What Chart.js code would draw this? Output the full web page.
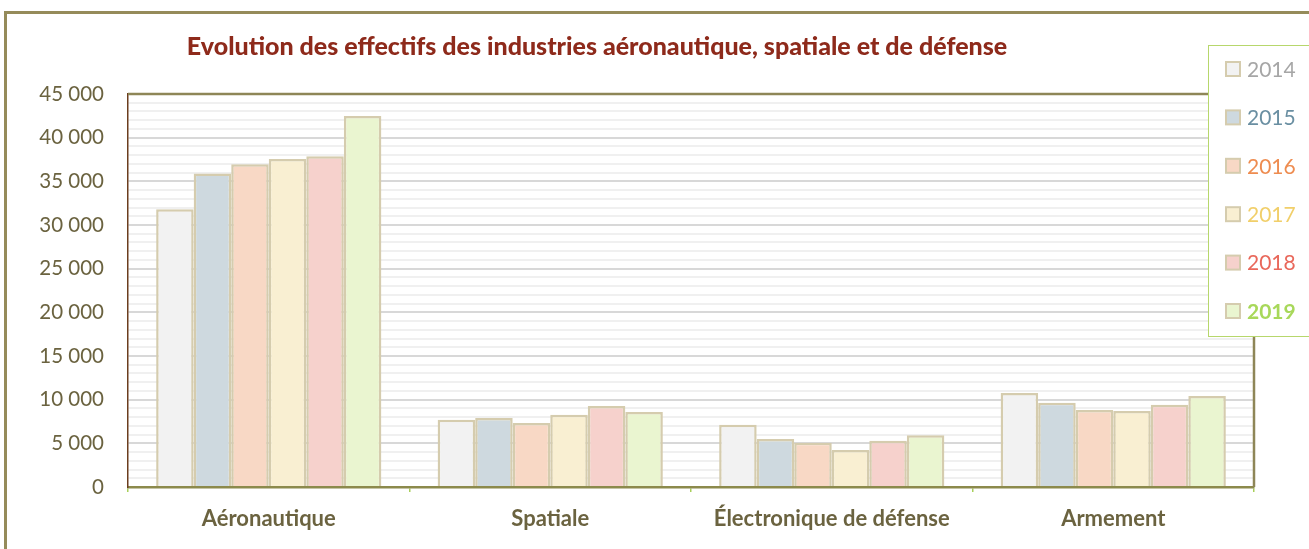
<!DOCTYPE html>
<html>
<head>
<meta charset="utf-8">
<script src="https://cdn.jsdelivr.net/npm/chart.js@4"></script>
<style>
  html, body { margin: 0; padding: 0; background: #fff; }
  #wrap { position: relative; width: 1309px; height: 549px; }
  #frame {
    position: absolute; left: 4px; top: 11px; right: -10px; bottom: -10px;
    border-left: 3px solid #958B5A; border-top: 3px solid #958B5A;
  }
</style>
</head>
<body>
<div id="wrap">
  <div id="frame"></div>
  <canvas id="chart"></canvas>
</div>
<script>
// categories and series values
var categories = ["Aéronautique", "Spatiale", "Électronique de défense", "Armement"];
var years = ["2014", "2015", "2016", "2017", "2018", "2019"];
var v2014 = [31800, 7700, 7130, 10760];
var v2015 = [35900, 7900, 5500, 9650];
var v2016 = [36950, 7330, 5070, 8820];
var v2017 = [37550, 8280, 4240, 8700];
var v2018 = [37860, 9270, 5300, 9420];
var v2019 = [42480, 8590, 5920, 10420];
var barColors = ["#F2F2F2", "#CED9DF", "#F8D8C5", "#F9EFD2", "#F6D1CC", "#EAF5D0"];
var legendTextColors = ["#A6A6A6", "#6A8FA2", "#EE8C50", "#F1CF6A", "#E9685B", "#A8D85A"];

var titleText = "Evolution des effectifs des industries aéronautique, spatiale et de défense";
var fontFamily = "Lato, 'Open Sans', sans-serif";

function fmt(v) {
  return String(v).replace(/\B(?=(\d{3})+(?!\d))/g, " ");
}

var seriesValues = [v2014, v2015, v2016, v2017, v2018, v2019];
var datasets = years.map(function (y, i) {
  return {
    label: y,
    data: seriesValues[i],
    backgroundColor: barColors[i],
    borderColor: "#D5CCAE",
    borderWidth: 2.5,
    categoryPercentage: 0.8,
    barPercentage: 1.0
  };
});

// title, plot frame and legend box drawn on top
var decorPlugin = {
  id: "decor",
  afterDraw: function (chart) {
    var ctx = chart.ctx;
    var a = chart.chartArea;
    ctx.save();

    // plot area frame: top and right in olive
    ctx.strokeStyle = "#8E8657";
    ctx.lineWidth = 2.5;
    ctx.beginPath();
    ctx.moveTo(a.left, a.top);
    ctx.lineTo(a.right, a.top);
    ctx.lineTo(a.right, a.bottom);
    ctx.stroke();

    // title
    ctx.fillStyle = "#8E2A1B";
    ctx.font = "900 25px " + fontFamily;
    ctx.textAlign = "center";
    ctx.textBaseline = "middle";
    ctx.fillText(titleText, 597, 47);

    // legend box
    var lx = 1208, ly = 45, lw = 120, lh = 291;
    ctx.fillStyle = "#ffffff";
    ctx.fillRect(lx, ly, lw, lh);
    ctx.strokeStyle = "#B7D76C";
    ctx.lineWidth = 1;
    ctx.strokeRect(lx + 0.5, ly + 0.5, lw, lh);

    chart.data.datasets.forEach(function (ds, i) {
      var cy = 69 + i * 48.4;
      ctx.fillStyle = ds.backgroundColor;
      ctx.fillRect(1226, cy - 7, 14, 14);
      ctx.strokeStyle = "#D5CCAE";
      ctx.lineWidth = 2;
      ctx.strokeRect(1226, cy - 7, 14, 14);
      ctx.fillStyle = legendTextColors[i];
      ctx.font = (i === 5 ? "bold " : "") + "21px " + fontFamily;
      ctx.textAlign = "left";
      ctx.textBaseline = "middle";
      ctx.fillText(ds.label, 1247, cy + 1);
    });
    ctx.restore();
  }
};

new Chart(document.getElementById("chart"), {
  type: "bar",
  data: { labels: categories, datasets: datasets },
  options: {
    responsive: true,
    maintainAspectRatio: false,
    animation: false,
    layout: { padding: { top: 94, right: 55, left: 0, bottom: 0 } },
    plugins: {
      legend: { display: false },
      title: { display: false },
      tooltip: { enabled: false }
    },
    scales: {
      x: {
        afterFit: function (s) { s.height = 62; },
        grid: {
          offset: true,
          drawOnChartArea: false,
          drawTicks: true,
          tickLength: 5,
          color: "#A8CF5A",
          lineWidth: 1.5
        },
        border: { color: "#8C8A4C", width: 2.5 },
        ticks: {
          color: "#6B6340",
          padding: 14,
          font: { family: fontFamily, size: 22, weight: "bold" }
        }
      },
      y: {
        min: 0,
        max: 45000,
        afterFit: function (s) { s.width = 128; },
        ticks: {
          stepSize: 1000,
          autoSkip: false,
          color: "#6B6340",
          padding: 24,
          font: { family: fontFamily, size: 20.5 },
          callback: function (v) { return v % 5000 === 0 ? fmt(v) : ""; }
        },
        grid: {
          drawTicks: false,
          color: function (c) {
            return c.tick && c.tick.value % 5000 === 0 ? "#D8D8D8" : "#F0F0F0";
          },
          lineWidth: 2
        },
        border: { color: "#6B3D1E", width: 1.5 }
      }
    }
  },
  plugins: [decorPlugin]
});
</script>
</body>
</html>
